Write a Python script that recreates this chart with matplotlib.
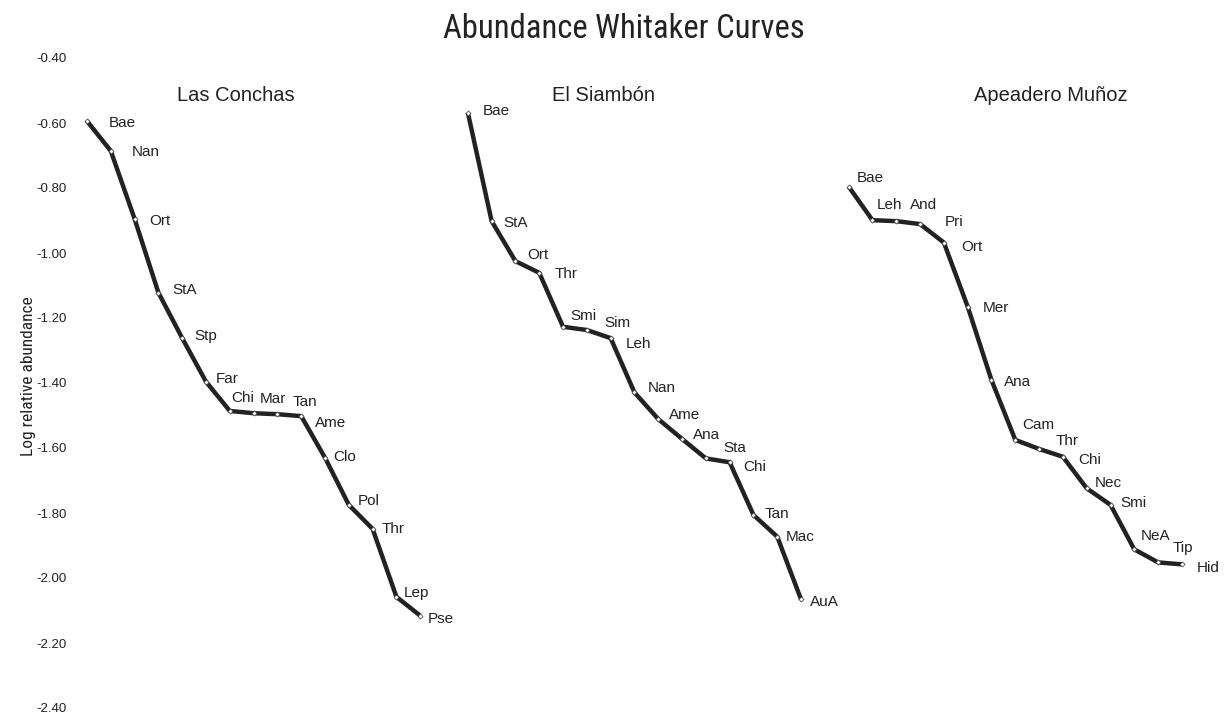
import matplotlib.pyplot as plt
import numpy as np

# Log relative abundance per taxon, ranked, for each site
lc_taxa = ['Bae', 'Nan', 'Ort', 'StA', 'Stp', 'Far', 'Chi', 'Mar', 'Tan', 'Ame',
           'Clo', 'Pol', 'Thr', 'Lep', 'Pse']
lc_vals = [-0.594, -0.686, -0.895, -1.122, -1.262, -1.396, -1.486, -1.493, -1.496,
           -1.502, -1.630, -1.775, -1.849, -2.058, -2.116]

es_taxa = ['Bae', 'StA', 'Ort', 'Thr', 'Smi', 'Sim', 'Leh', 'Nan', 'Ame', 'Ana',
           'Sta', 'Chi', 'Tan', 'Mac', 'AuA']
es_vals = [-0.568, -0.902, -1.025, -1.061, -1.227, -1.237, -1.262, -1.429, -1.511,
           -1.572, -1.632, -1.644, -1.806, -1.873, -2.066]

am_taxa = ['Bae', 'Leh', 'And', 'Pri', 'Ort', 'Mer', 'Ana', 'Cam', 'Thr', 'Chi',
           'Nec', 'Smi', 'NeA', 'Tip', 'Hid']
am_vals = [-0.796, -0.899, -0.902, -0.911, -0.968, -1.165, -1.391, -1.575, -1.603,
           -1.627, -1.724, -1.775, -1.912, -1.952, -1.958]

sites = ['Las Conchas', 'El Siambón', 'Apeadero Muñoz']
yticks = [-0.4, -0.6, -0.8, -1.0, -1.2, -1.4, -1.6, -1.8, -2.0, -2.2, -2.4]

# label offsets in pixels (dx right, dy up from the point to text centre)
lc_off = [(22, 0), (21, 0), (15, -1), (14, 4), (12, 4), (10, 4), (1, 14), (6, 16),
          (15, 14), (14, -5), (8, 2), (9, 5), (9, 1), (7, 5), (8, -2)]
es_off = [(15, 3), (12, 0), (12, 8), (15, 0), (7, 12), (18, 9), (15, -4), (13, 6),
          (11, 6), (11, 5), (17, 12), (14, -3), (11, 2), (8, 1), (9, -1)]
am_off = [(8, 10), (4, 17), (14, 18), (25, 4), (17, -3), (15, 0), (12, 0), (7, 16),
          (17, 9), (15, -2), (8, 7), (10, 3), (6, 15), (15, 16), (15, -2)]

plt.rcParams['font.family'] = ['Liberation Sans', 'DejaVu Sans']
narrow = ['Roboto Condensed', 'DejaVu Sans']
ink = '#222222'

fig = plt.figure(figsize=(12.26, 7.14), dpi=100)
ax = fig.add_axes([75 / 1226, 6 / 714, 1135 / 1226, 650 / 714])

series = [(lc_taxa, lc_vals, lc_off), (es_taxa, es_vals, es_off), (am_taxa, am_vals, am_off)]
start = 0
for taxa, vals, offs in series:
    x = np.arange(len(vals)) + start
    ax.plot(x, vals, color=ink, lw=3.2, solid_capstyle='butt', zorder=2)
    ax.plot(x, vals, ls='none', marker='D', ms=2.6, mfc='white', mec='#333333',
            mew=0.5, zorder=3)
    for xi, v, t, (dx, dy) in zip(x, vals, taxa, offs):
        ax.annotate(t, (xi, v), xytext=(dx, dy - 5.5), textcoords='offset pixels',
                    ha='left', va='baseline', fontsize=11, color=ink)
    start += len(vals) + 1

# site titles
for name, xs in zip(sites, [6.26, 21.7, 40.5]):
    ax.text(xs, -0.532, name, ha='center', va='baseline', fontsize=14.5, color=ink)

ax.set_xlim(-0.504, 47.18)
ax.set_ylim(-2.4, -0.4)
ax.set_yticks(yticks)
ax.set_yticklabels(['%.2f' % t for t in yticks])
ax.tick_params(axis='y', length=0, pad=5.8, labelsize=9.5, colors=ink)
ax.set_xticks([])
for s in ax.spines.values():
    s.set_visible(False)

fig.text(624 / 1226, 1 - 38 / 714, 'Abundance Whitaker Curves', ha='center', va='baseline',
         fontsize=23.5, family=narrow, color=ink)
fig.text(33 / 1226, 1 - 376 / 714, 'Log relative abundance', ha='center', va='baseline',
         rotation=90, rotation_mode='anchor', fontsize=12.5, family=narrow, color=ink)

fig.savefig('out.png', dpi=100)
